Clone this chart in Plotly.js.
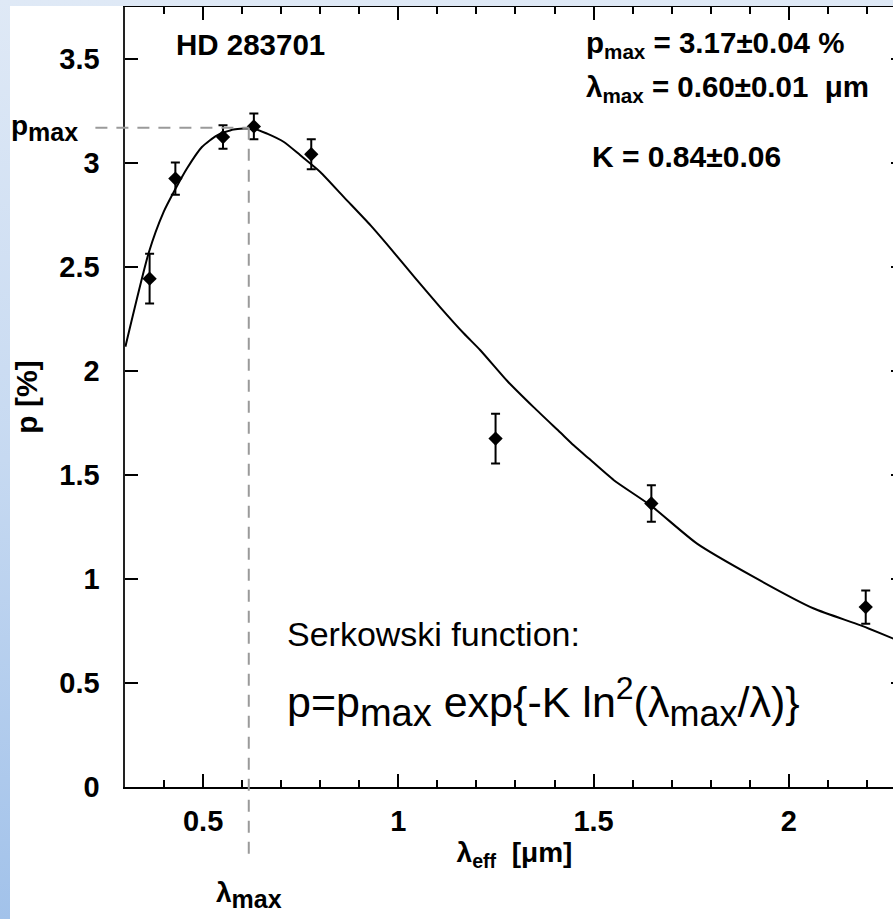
<!DOCTYPE html>
<html>
<head>
<meta charset="utf-8">
<script src="https://cdn.plot.ly/plotly-3.0.1.min.js"></script>
<style>
  html, body { margin:0; padding:0; }
  body { width:893px; height:919px; overflow:hidden; position:relative;
         background: linear-gradient(to bottom, #dfe9f6 0%, #c6d9f1 50%, #a2c2ea 100%); }
  #wrap { position:absolute; left:10px; top:6px; width:883px; height:913px; overflow:hidden; background:#ffffff; }
</style>
</head>
<body>
<div id="wrap"><div id="plot"></div></div>
<script>
// Observed polarization (HD 283701)
const lambdaObs = [0.363, 0.429, 0.551, 0.630, 0.777, 1.249, 1.648, 2.197];
const pObs      = [2.444, 2.925, 3.125, 3.176, 3.042, 1.675, 1.363, 0.865];
const pErr      = [0.120, 0.078, 0.056, 0.062, 0.072, 0.120, 0.088, 0.080];

// Serkowski curve
const lambdaFit = [0.301, 0.361, 0.399, 0.429, 0.459, 0.497, 0.536, 0.578, 0.630, 0.664,
                   0.707, 0.749, 0.800, 0.860, 0.929, 0.976, 1.044, 1.108, 1.168, 1.210,
                   1.279, 1.347, 1.415, 1.449, 1.488, 1.552, 1.646, 1.765, 1.910, 2.064,
                   2.184, 2.268];
const pFit      = [2.117, 2.570, 2.765, 2.875, 2.975, 3.077, 3.133, 3.161, 3.165, 3.141,
                   3.101, 3.037, 2.957, 2.837, 2.700, 2.598, 2.445, 2.305, 2.180, 2.100,
                   1.952, 1.825, 1.704, 1.643, 1.579, 1.475, 1.354, 1.170, 1.010, 0.858,
                   0.777, 0.713];

// Fit markers (dashed guide lines)
const pMaxLine = 3.17;
const lambdaMaxLine = 0.617;

// Texts
const starName = 'HD 283701';
const fitTexts = ['p<sub>max</sub> = 3.17±0.04 %', 'λ<sub>max</sub> = 0.60±0.01  μm', 'K = 0.84±0.06'];
const serkTitle = 'Serkowski function:';
const serkFormula = 'p=p<sub><span style="font-size:38px">max</span></sub> exp{-K ln<sup><span style="font-size:32px">2</span></sup>(λ<sub><span style="font-size:36px">max</span></sub>/λ)}';
const pMaxLabel = 'p<sub><span style="font-size:25px">max</span></sub>';
const lambdaMaxLabel = 'λ<sub><span style="font-size:25px">max</span></sub>';

const xRange = [0.3, 2.295];
const yRange = [0, 3.75];
const F = 'Liberation Sans, Arial, Helvetica, sans-serif';

const traces = [
  { x: lambdaFit, y: pFit, type: 'scatter', mode: 'lines',
    line: { color: '#000', width: 2, shape: 'spline', smoothing: 0.6 }, hoverinfo: 'skip' },
  { x: lambdaObs, y: pObs, type: 'scatter', mode: 'markers',
    marker: { symbol: 'diamond', size: 11, color: '#000' },
    error_y: { type: 'data', array: pErr, visible: true, color: '#000', thickness: 2, width: 4.5 } }
];

const xp = v => (v - xRange[0]) / (xRange[1] - xRange[0]);
const yp = v => (v - yRange[0]) / (yRange[1] - yRange[0]);

const dashLine = { color: '#9a9a9a', width: 2, dash: '12px,9px' };
const boldFont = (s) => ({ family: F, size: s, color: '#000', weight: 'bold' });

const layout = {
  width: 923, height: 913,
  margin: { l: 115, r: 29, t: 1, b: 132 },
  paper_bgcolor: '#ffffff', plot_bgcolor: '#ffffff',
  showlegend: false, hovermode: false,
  xaxis: {
    range: xRange, tick0: 0, dtick: 0.5, ticks: 'inside', ticklen: 13, tickwidth: 2, tickcolor: '#000',
    showline: true, linecolor: '#000', linewidth: 2, mirror: 'ticks', showgrid: false, zeroline: false,
    tickfont: boldFont(29), ticklabelstandoff: 7,
    minor: { dtick: 0.1, ticks: 'inside', ticklen: 7, tickwidth: 2, tickcolor: '#000', showgrid: false },
    title: { text: 'λ<sub>eff</sub>  [μm]', font: boldFont(28), standoff: 7 }
  },
  yaxis: {
    range: yRange, tick0: 0, dtick: 0.5, ticks: 'inside', ticklen: 13, tickwidth: 2, tickcolor: '#000',
    showline: true, linecolor: '#222', linewidth: 2.5, mirror: 'ticks', showgrid: false, zeroline: false,
    tickfont: boldFont(29), ticklabelstandoff: 17,
    title: { text: 'p [%]', font: boldFont(30), standoff: 38 }
  },
  shapes: [
    { type: 'line', xref: 'paper', yref: 'paper', x0: -0.038, x1: xp(lambdaMaxLine), y0: yp(pMaxLine), y1: yp(pMaxLine), line: dashLine, layer: 'above' },
    { type: 'line', xref: 'paper', yref: 'paper', x0: xp(lambdaMaxLine), x1: xp(lambdaMaxLine), y0: yp(pMaxLine), y1: -0.097, line: dashLine, layer: 'above' }
  ],
  annotations: [
    { text: starName, xref: 'x', yref: 'y', x: 0.426, y: 3.57, xanchor: 'left', yanchor: 'middle', showarrow: false,
      font: boldFont(29.5) },
    { text: fitTexts[0], xref: 'x', yref: 'y', x: 1.476, y: 3.57, xanchor: 'left', yanchor: 'middle', showarrow: false,
      font: boldFont(29.5) },
    { text: fitTexts[1], xref: 'x', yref: 'y', x: 1.476, y: 3.36, xanchor: 'left', yanchor: 'middle', showarrow: false,
      font: boldFont(29.5) },
    { text: fitTexts[2], xref: 'x', yref: 'y', x: 1.490, y: 3.03, xanchor: 'left', yanchor: 'middle', showarrow: false,
      font: boldFont(30) },
    { text: serkTitle, xref: 'x', yref: 'y', x: 0.709, y: 0.735, xanchor: 'left', yanchor: 'middle', showarrow: false,
      font: { family: F, size: 34, color: '#000' } },
    { text: serkFormula, xref: 'x', yref: 'y', x: 0.709, y: 0.41, xanchor: 'left', yanchor: 'middle', showarrow: false,
      font: { family: F, size: 43, color: '#000' } },
    { text: pMaxLabel, xref: 'paper', yref: 'y', x: -0.149, y: pMaxLine, xanchor: 'left', yanchor: 'middle', showarrow: false,
      font: boldFont(28) },
    { text: lambdaMaxLabel, xref: 'x', yref: 'paper', x: lambdaMaxLine, y: -0.139, xanchor: 'center', yanchor: 'middle', showarrow: false,
      font: boldFont(28) }
  ]
};

Plotly.newPlot('plot', traces, layout, { staticPlot: true, displayModeBar: false });
</script>
</body>
</html>
